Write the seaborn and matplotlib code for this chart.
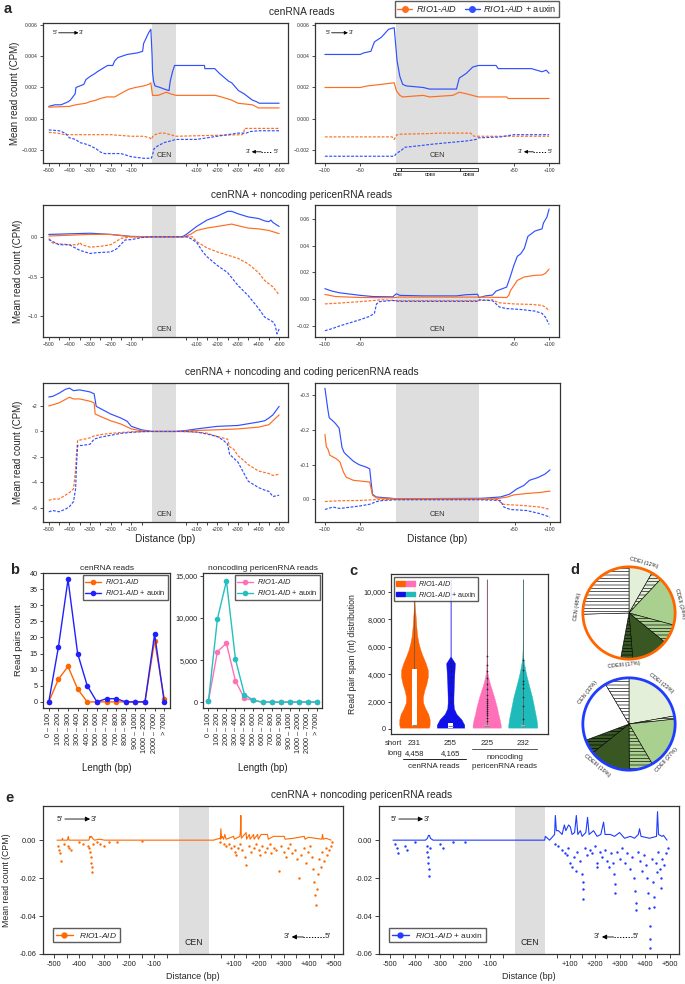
"""Multi-panel cenRNA read profiles for RIO1-AID +/- auxin (panels a-e)."""

import math

import matplotlib

matplotlib.use("Agg")
import matplotlib.pyplot as plt
import matplotlib.transforms as mtrans
from matplotlib.legend_handler import HandlerTuple
from matplotlib.lines import Line2D
from matplotlib.patches import Circle, Patch, Rectangle
import seaborn as sns

FIG_W, FIG_H = 685, 984
CEN_LEN = 117  # CEN block width on the x axis; downstream flank positions = bp + CEN_LEN

ORANGE = "#ff6d1f"
BLUE = "#3050ff"
PINK = "#ff70b8"
TEAL = "#22c0c0"
CEN_GREY = "#dedede"

AID = r"$\mathit{RIO1}$-$\mathit{AID}$"
AUX = r"$\mathit{RIO1}$-$\mathit{AID}$ + auxin"

# ---------------- panel a: read profiles (x: -bp | CEN 0..117 | 117+bp) ----------------
# row 1, left (cenRNA reads, +/-500 bp)
R1L_BF_X = [-500, -470, -440, -405, -395, -372, -368, -330, -320, -300, -275, -265, -240, -215, -190,
            -180, -165, -120, -70, -45, -40, -15, -5, 1, 3, 8, 15, 40, 60, 83, 89, 100, 110, 117,
            142, 255, 257, 305, 327, 354, 372, 387, 407, 420, 447, 487, 507, 520, 617]
R1L_BF_Y = [.0008, .0009, .0009, .0011, .0012, .0016, .0020, .0022, .0025, .0027, .0029, .0030, .0032,
            .0034, .0034, .0037, .0039, .0041, .0042, .0043, .0048, .0055, .0057, .0040, .0030, .0024,
            .0021, .0020, .0019, .0018, .0024, .0030, .0034, .0034, .0034, .0034, .0032, .0032, .0029,
            .0026, .0024, .0023, .0020, .0018, .0016, .0012, .0011, .0010, .0010]
R1L_OF_X = [-500, -400, -370, -320, -300, -270, -250, -220, -180, -140, -110, -80, -40, -15, -5,
            3, 30, 50, 70, 90, 117, 307, 337, 387, 417, 487, 517, 617]
R1L_OF_Y = [.00075, .0008, .0009, .0010, .0011, .0012, .0013, .0014, .0014, .0017, .0019, .0020, .0021,
            .0022, .0023, .0015, .0015, .0016, .0017, .0016, .0015, .0015, .0014, .0012, .0010, .0009,
            .0007, .0007]
R1L_OR_X = [-500, -460, -420, -400, -300, -200, -100, -40, -10, -3, 5, 15, 40, 60, 90, 117,
            437, 446, 448, 617]
R1L_OR_Y = [-.00085, -.0009, -.0010, -.0010, -.0010, -.0010, -.0011, -.0011, -.0012, -.0013, -.0011,
            -.0010, -.0009, -.0009, -.0010, -.0011, -.0010, -.0009, -.0006, -.0006]
R1L_BR_X = [-500, -450, -420, -400, -370, -350, -320, -300, -270, -250, -230, -200, -150, -100, -40,
            -3, 3, 10, 30, 60, 90, 117, 217, 267, 317, 367, 417, 457, 477, 517, 617]
R1L_BR_Y = [-.0007, -.00075, -.0009, -.0012, -.0013, -.0015, -.0016, -.0017, -.0019, -.0021, -.0022,
            -.0022, -.0022, -.0024, -.0025, -.0025, -.0023, -.0019, -.0017, -.0015, -.0014, -.0013,
            -.0013, -.0012, -.0011, -.0010, -.0009, -.0009, -.0008, -.00075, -.00075]

# row 1, right (cenRNA reads, +/-100 bp)
R1R_BF_X = [-100, -50, -45, -35, -30, -20, -10, -2, 2, 6, 10, 15, 39, 48, 86, 90, 100, 109, 117,
            142, 145, 192, 207, 213, 217]
R1R_BF_Y = [.0041, .0041, .0042, .0043, .0049, .0052, .0057, .0058, .0037, .0027, .0022, .0021, .0020,
            .0019, .0019, .0026, .0029, .0033, .0034, .0034, .0032, .0032, .0030, .0031, .0029]
R1R_OF_X = [-100, -50, -40, -20, -2, 1, 6, 10, 39, 48, 81, 90, 100, 117, 157, 159, 217]
R1R_OF_Y = [.0020, .0020, .0021, .0022, .0023, .0018, .0015, .0014, .0015, .0014, .0015, .0017, .0016,
            .0014, .0014, .0013, .0013]
R1R_OR_X = [-100, -5, -2, 2, 6, 48, 62, 106, 111, 117, 217]
R1R_OR_Y = [-.00114, -.00114, -.0013, -.0010, -.00097, -.00093, -.0009, -.0009, -.0011, -.0011, -.0011]
R1R_BR_X = [-100, -2, 1, 8, 13, 34, 53, 76, 100, 114, 117, 147, 167, 217]
R1R_BR_Y = [-.00237, -.00237, -.0022, -.0020, -.0018, -.0017, -.0016, -.0015, -.0014, -.0013, -.0012,
            -.00115, -.0010, -.0010]

# row 2 (cenRNA + noncoding pericenRNA reads)
R2L_BF_X = [-500, -300, -200, -100, 0, 117, 147, 167, 217, 267, 317, 367, 387, 417, 467, 517, 547,
            567, 577, 587, 617]
R2L_BF_Y = [.03, .045, .03, .005, 0, 0, 0, .03, .13, .21, .26, .32, .32, .29, .25, .23, .20, .19, .21,
            .18, .13]
R2L_OF_X = [-500, -300, -200, -100, 0, 117, 157, 187, 217, 267, 317, 387, 417, 467, 517, 567, 617]
R2L_OF_Y = [.01, .03, .03, 0, 0, 0, 0, .03, .08, .11, .13, .16, .14, .11, .10, .08, .04]
R2L_OR_X = [-500, -480, -400, -360, -350, -340, -300, -250, -200, -180, -150, -100, 0, 117, 197, 217,
            267, 317, 367, 417, 467, 517, 547, 587, 617]
R2L_OR_Y = [-.02, -.08, -.10, -.10, -.07, -.10, -.13, -.12, -.10, -.07, -.02, 0, 0, 0, 0, -.06, -.14,
            -.19, -.23, -.27, -.34, -.45, -.55, -.63, -.73]
R2L_BR_X = [-500, -450, -400, -350, -300, -270, -200, -170, -130, -100, -50, 0, 117, 167, 187, 217,
            247, 267, 317, 367, 417, 467, 517, 547, 587, 597, 607, 617]
R2L_BR_Y = [-.035, -.10, -.10, -.17, -.21, -.20, -.19, -.15, -.04, -.035, -.01, 0, 0, 0, -.02, -.07,
            -.19, -.25, -.36, -.45, -.61, -.74, -.90, -1.01, -1.07, -1.11, -1.22, -1.16]

R2R_BF_X = [-100, -90, -79, -50, -32, -4, 1, 6, 39, 86, 100, 116, 118, 127, 137, 142, 157, 162, 167,
            172, 177, 182, 187, 197, 207, 209, 214, 217]
R2R_BF_Y = [.0078, .006, .0047, .0028, .0019, .0017, .004, .0028, .0024, .0024, .0033, .0036, .001,
            .0024, .0030, .006, .009, .0166, .025, .032, .034, .038, .047, .051, .0526, .057, .0615, .0675]
R2R_OF_X = [-100, -85, -50, -4, 5, 115, 157, 160, 162, 172, 182, 197, 207, 212, 217]
R2R_OF_Y = [.0035, .0019, .0012, .001, .0015, .0015, .0012, .0028, .006, .014, .0166, .0178, .018,
            .0194, .0225]
R2R_OR_X = [-100, -80, -50, -20, 5, 115, 137, 142, 147, 167, 192, 207, 212, 217]
R2R_OR_Y = [-.0036, -.003, -.0019, -.0005, -.0012, -.0012, -.0005, -.0019, -.0028, -.0036, -.004,
            -.0047, -.006, -.009]
R2R_BR_X = [-100, -89, -79, -65, -50, -37, -30, -27, -23, -4, 5, 115, 117, 137, 142, 147, 157, 177,
            197, 207, 212, 217]
R2R_BR_Y = [-.0237, -.022, -.0201, -.0178, -.0154, -.013, -.0107, -.0036, -.0019, -.001, -.0017,
            -.0017, -.0005, -.0012, -.0036, -.006, -.0071, -.0078, -.009, -.0107, -.0137, -.019]

# row 3 (cenRNA + noncoding and coding pericenRNA reads)
R3L_BF_X = [-500, -480, -450, -420, -400, -380, -350, -300, -280, -270, -250, -200, -150, -120, -100,
            -50, 0, 117, 167, 217, 317, 417, 517, 547, 567, 587, 617]
R3L_BF_Y = [2.7, 2.76, 3.0, 3.3, 3.4, 3.2, 3.26, 3.1, 2.95, 1.97, 1.8, 1.37, 1.05, 0.8, 0.4, 0.13, 0,
            0, .08, .2, .4, .47, .74, .84, 1.05, 1.3, 1.97]
R3L_OF_X = [-500, -450, -400, -380, -350, -300, -280, -275, -250, -200, -150, -100, -50, 0, 117, 217,
            317, 417, 517, 567, 617]
R3L_OF_Y = [2.0, 2.24, 2.68, 2.55, 2.55, 2.37, 2.24, 1.37, 1.18, .84, .58, .2, .05, 0, 0, .08, .13,
            .2, .34, .53, 1.3]
R3L_OR_X = [-500, -480, -450, -420, -400, -380, -370, -365, -360, -340, -300, -280, -250, -200, -150,
            -100, -50, 0, 117, 217, 267, 317, 367, 377, 397, 417, 447, 467, 497, 517, 567, 587, 617]
R3L_OR_Y = [-5.4, -5.3, -5.3, -5.0, -4.8, -4.5, -3.0, -1.5, -0.7, -0.65, -0.5, -0.35, -0.25, -0.15,
            -0.08, -0.03, -0.01, 0, 0, -0.05, -0.13, -0.4, -0.6, -1.2, -1.4, -1.9, -2.3, -2.6, -2.9,
            -3.1, -3.3, -3.45, -3.35]
R3L_BR_X = [-500, -480, -450, -420, -400, -380, -370, -365, -360, -340, -300, -290, -280, -250, -200,
            -150, -100, -50, 0, 117, 167, 217, 267, 317, 347, 367, 377, 397, 417, 437, 467, 517, 547,
            567, 587, 617]
R3L_BR_Y = [-6.3, -6.2, -6.3, -6.1, -5.9, -5.5, -4.5, -2.5, -1.1, -1.1, -1.0, -0.8, -0.6, -0.45, -0.3,
            -0.15, -0.07, -0.02, 0, 0, 0, -0.05, -0.2, -0.4, -0.7, -1.0, -1.8, -2.1, -2.4, -3.0, -3.9,
            -4.4, -4.6, -4.7, -5.1, -5.0]

R3R_BF_X = [-100, -98, -96, -94, -90, -85, -80, -76, -73, -68, -60, -52, -42, -37, -35, -33, -28,
            -10, 0, 117, 127, 147, 160, 170, 180, 188, 200, 210, 217]
R3R_BF_Y = [.32, .29, .26, .235, .228, .218, .205, .15, .135, .125, .11, .10, .093, .088, .05, .015,
            .007, .004, .002, .003, .004, .007, .015, .03, .04, .055, .063, .073, .085]
R3R_OF_X = [-100, -98, -96, -93, -84, -79, -74, -70, -60, -37, -33, -27, 0, 117, 142, 157, 166, 184,
            203, 217]
R3R_OF_Y = [.187, .151, .146, .127, .117, .108, .079, .064, .055, .05, .012, .004, .002, .002, .002,
            .007, .013, .017, .02, .024]
R3R_OR_X = [-100, -80, -50, -32, 0, 117, 142, 147, 152, 175, 203, 217]
R3R_OR_Y = [-.006, -.004, -.003, -.001, 0, 0, 0, -.008, -.0145, -.017, -.022, -.029]
R3R_BR_X = [-100, -89, -79, -51, -37, -27, -18, 0, 117, 147, 152, 161, 184, 203, 217]
R3R_BR_Y = [-.029, -.022, -.026, -.019, -.014, -.006, -.003, -.001, -.001, -.003, -.022, -.029, -.032,
            -.041, -.051]

CDE_EDGES = [0, 8, 91, 117]
CDE_NAMES = ["CDEI", "CDEII", "CDEIII"]

# ---------------- panel b: read-pair length distribution ----------------
LENGTH_BINS = ["0 – 100", "100 – 200", "200 – 300", "300 – 400", "400 – 500", "500 – 600",
               "600 – 700", "700 – 800", "800 – 900", "900 – 1000", "1000 – 2000", "2000 – 7000",
               "> 7000"]
B_CEN_AID = [0, 7, 11, 4, 0, 0, 0, 0, 0, 0, 0, 19, 1]
B_CEN_AUX = [0, 17, 38, 15, 5, 0, 1, 1, 0, 0, 0, 21, 0]
B_PERI_AID = [100, 6000, 7000, 2500, 450, 200, 0, 0, 0, 0, 0, 0, 0]
B_PERI_AUX = [100, 9900, 14400, 5100, 900, 200, 0, 0, 0, 0, 0, 0, 0]

# ---------------- panel c: read-pair span violins ----------------
VIOLIN_COLORS = ["#ff6000", "#1010e8", PINK, "#1fbaba"]
VIOLIN_Y = [100, 300, 700, 1100, 1500, 1900, 2300, 2800, 3300, 3800, 4300, 4800, 5300, 5800, 6300,
            6800, 7500, 8300, 9300, 10000, 10900]
VIOLIN_HW_AID = [0.40, 0.42, 0.42, 0.38, 0.30, 0.24, 0.23, 0.27, 0.33, 0.37, 0.37, 0.31, 0.23, 0.16,
                 0.11, 0.075, 0.05, 0.03, 0.0, 0.0, 0.0]
VIOLIN_HW_AUX = [0.38, 0.38, 0.30, 0.16, 0.09, 0.08, 0.08, 0.085, 0.09, 0.10, 0.11, 0.12, 0.0, 0, 0,
                 0, 0, 0, 0, 0, 0]
VIOLIN_HW_PERI_AID = [0.39, 0.39, 0.36, 0.32, 0.29, 0.25, 0.21, 0.15, 0.09, 0.04, 0.012, 0.006,
                      0.003, 0, 0, 0, 0, 0, 0, 0, 0]
VIOLIN_HW_PERI_AUX = [0.40, 0.40, 0.38, 0.35, 0.32, 0.29, 0.26, 0.21, 0.16, 0.11, 0.07, 0.035, 0.012,
                      0.004, 0, 0, 0, 0, 0, 0, 0]
BOX_Q1 = [220, 100, 150, 150]
BOX_Q3 = [4350, 450, 320, 320]
BOX_MED = [260, 200, 230, 230]
WHISK_TOP = [9300, 450, 10900, 10900]
BOX_FACE = ["white", "white", "#b5b5b5", "#b5b5b5"]
C_DOT_GROUP = [1] * 7 + [2] * 18 + [3] * 8
C_DOT_Y = [2000, 2500, 3400, 3800, 4200, 4600, 4900,
           600, 800, 1000, 1150, 1300, 1450, 1600, 1750, 1900, 2050, 2200, 2500, 2900, 3300, 3700,
           4200, 4700, 5300,
           700, 1700, 2300, 3000, 3300, 3500, 4300, 5000]
SHORT_N = ["231", "255", "225", "232"]
LONG_N = ["4,458", "4,165"]

# ---------------- panel d: CDE composition pies (solid / hatched parts, %) ----------------
PIE_TOP = [8.3, 3.7, 17.2, 6.7, 12.8, 4.2, 21.7, 25.4]
PIE_BOTTOM = [22.2, 1.1, 18.3, 8.3, 14.4, 5.0, 22.2, 8.5]
PIE_COLORS = ["#e3efd9", "#e3efd9", "#a9d08e", "#a9d08e", "#385723", "#385723", "white", "white"]
PIE_HATCH = ["", "-----", "", "-----", "", "-----", "", "-----"]
PIE_TOP_LABELS = [("CDEI (12%)", 74, -16), ("CDEII (24%)", 10, -76), ("CDEIII (17%)", -96, 6),
                  ("CEN (48%)", 173, 82)]
PIE_BOTTOM_LABELS = [("CDEI (23%)", 52, -38), ("CDEII (27%)", -44, 48), ("CDEIII (19%)", -128, -40),
                     ("CEN (32%)", 142, 52)]

# ---------------- panel e: per-position profiles (forward line, reverse dots) ----------------
E_AID_FWD_X = [-490, -470, -468, -466, -448, -445, -442, -380, -362, -358, -355, -352, -348, -340,
               -320, -300, -200, -100, 0, 117, 137, 162, 164, 166, 169, 172, 177, 182, 187, 217, 220,
               242, 244, 246, 248, 267, 269, 280, 283, 297, 299, 313, 316, 327, 353, 356, 377, 420,
               423, 457, 500, 503, 517, 570, 573, 576, 587, 607]
E_AID_FWD_Y = [0, 0, .001, 0, 0, .002, 0, 0, 0, .002, .0015, .002, .001, 0, .0005, 0, 0, 0, 0, 0, 0,
               .001, .0005, .006, .001, .002, .0005, .003, .0005, .002, .0005, .002, .004, .013, .001,
               .004, .0005, .003, .0005, .003, .0005, .003, .0005, .003, .003, .0005, .002, .002,
               .0005, .001, .002, .0005, .0015, .0005, .003, .0005, .001, 0]
E_AID_REV = [(-485, -.003), (-480, -.005), (-476, -.007), (-472, -.011), (-462, -.002), (-445, -.003),
             (-440, -.004), (-435, -.005), (-400, -.001), (-385, -.002), (-365, -.003), (-360, -.004),
             (-357, -.006), (-355, -.009), (-353, -.012), (-351, -.014), (-350, -.017), (-345, -.002),
             (-330, -.001), (-318, -.002), (-300, -.003), (-280, -.001), (-250, -.001), (-150, -.0005),
             (162, -.001), (177, -.002), (187, -.003), (197, -.002), (207, -.004), (217, -.003),
             (222, -.006), (227, -.008), (235, -.004), (242, -.002), (252, -.005), (262, -.009),
             (267, -.013), (277, -.003), (287, -.006), (297, -.004), (307, -.002), (317, -.005),
             (322, -.008), (332, -.003), (342, -.006), (352, -.004), (362, -.002), (367, -.007),
             (377, -.004), (387, -.005), (397, -.016), (407, -.003), (417, -.006), (427, -.009),
             (435, -.004), (442, -.002), (452, -.007), (462, -.005), (472, -.010), (479, -.020),
             (487, -.008), (497, -.004), (507, -.012), (515, -.006), (522, -.003), (529, -.009),
             (535, -.015), (539, -.022), (542, -.029), (545, -.034), (549, -.026), (553, -.018),
             (559, -.010), (565, -.014), (572, -.006), (579, -.011), (585, -.004), (592, -.008),
             (599, -.005), (607, -.003), (612, -.001)]
E_AUX_FWD = [(-490, 0), (-360, 0), (-352, .001), (-348, .0025), (-344, .0025), (-340, .001), (-330, 0),
             (-200, 0), (0, 0), (117, 0), (120, .002), (137, 0), (157, .003), (160, .013), (164, .005),
             (172, .005), (180, .004), (187, .003), (196, .008), (202, .005), (213, .008), (220, .007),
             (227, .003), (237, .004), (244, .013), (250, .003), (260, .005), (267, .002), (282, .004),
             (289, .012), (295, .003), (313, .005), (327, .002), (342, .003), (353, .0095), (359, .003),
             (380, .003), (397, .002), (417, .004), (437, .001), (460, .002), (477, .001), (492, .003),
             (497, .006), (503, .002), (537, .001), (565, .002), (569, .015), (573, .003), (587, .002),
             (593, .0025), (607, 0)]
E_AUX_REV = [(-480, -.002), (-474, -.004), (-470, -.007), (-440, -.003), (-435, -.005), (-400, -.001),
             (-355, -.003), (-352, -.006), (-350, -.009), (-348, -.012), (-346, -.015), (-344, -.019),
             (-340, -.004), (-300, -.002), (-290, -.004), (-250, -.001), (-200, -.001),
             (157, -.002), (172, -.003), (187, -.005), (197, -.007), (207, -.008), (212, -.004),
             (217, -.012), (227, -.014), (235, -.009), (242, -.016), (247, -.006), (257, -.011),
             (265, -.018), (269, -.022), (269, -.026), (269, -.031), (277, -.004), (287, -.008),
             (297, -.005), (307, -.007), (317, -.003), (325, -.012), (327, -.014), (337, -.006),
             (347, -.009), (357, -.005), (367, -.011), (375, -.014), (382, -.007), (389, -.012),
             (395, -.018), (397, -.023), (397, -.028), (407, -.006), (417, -.010), (427, -.004),
             (437, -.012), (447, -.007), (457, -.015), (467, -.009), (475, -.020), (479, -.027),
             (481, -.033), (482, -.037), (489, -.006), (497, -.011), (507, -.016), (515, -.008),
             (522, -.013), (527, -.020), (532, -.028), (535, -.036), (537, -.045), (538, -.052),
             (538, -.057), (547, -.010), (551, -.022), (554, -.030), (555, -.035), (562, -.012),
             (567, -.017), (572, -.006), (577, -.015), (581, -.020), (582, -.025), (587, -.010),
             (595, -.013), (602, -.007), (609, -.004)]

FLANK_TICKS = [-500, -400, -300, -200, -100, 217, 317, 417, 517, 617]
FLANK_TICK_LABELS = ["−500", "−400", "−300", "−200", "−100", "+100", "+200", "+300", "+400", "+500"]
FLANK_MINOR = [-450, -350, -250, -150, -50, 167, 267, 367, 467, 567]
ZOOM_TICKS = [-100, -50, 167, 217]
ZOOM_TICK_LABELS = ["−100", "−50", "+50", "+100"]


def box(x0, y0, x1, y1):
    """Pixel box (top-left origin) -> figure-fraction rect."""
    return [x0 / FIG_W, 1 - y1 / FIG_H, (x1 - x0) / FIG_W, (y1 - y0) / FIG_H]


def _style() -> None:
    sns.set_theme(style="ticks")
    plt.rcParams.update(
        {
            "font.family": ["Liberation Sans", "DejaVu Sans"],
            "mathtext.fontset": "custom",
            "mathtext.it": "Liberation Sans:italic",
            "mathtext.rm": "Liberation Sans",
            "axes.edgecolor": "#333333",
            "axes.linewidth": 0.9,
            "xtick.major.size": 2.2,
            "ytick.major.size": 2.2,
            "xtick.minor.size": 2.2,
            "xtick.major.width": 0.6,
            "ytick.major.width": 0.6,
            "xtick.minor.width": 0.6,
            "xtick.major.pad": 1.5,
            "ytick.major.pad": 1.5,
            "hatch.linewidth": 0.45,
        }
    )


def strand_arrows(ax, fwd, rev, fs, head=5):
    """5' -> 3' (solid) and 3' <- 5' (dotted) strand keys, in axes fraction."""
    x0, x1, y = fwd
    ax.text(x0, y, "5'", transform=ax.transAxes, ha="right", va="center", fontsize=fs)
    ax.annotate("", xy=(x1, y), xytext=(x0 + 0.006, y), xycoords="axes fraction",
                arrowprops=dict(arrowstyle="-|>", color="black", lw=0.6, mutation_scale=head,
                                shrinkA=0, shrinkB=0))
    ax.text(x1 + 0.003, y, "3'", transform=ax.transAxes, ha="left", va="center", fontsize=fs)
    x0, x1, y = rev
    ax.text(x0, y, "3'", transform=ax.transAxes, ha="right", va="center", fontsize=fs)
    ax.annotate("", xy=(x0 + 0.006, y), xytext=(x0 + 0.045, y), xycoords="axes fraction",
                arrowprops=dict(arrowstyle="-|>", color="black", lw=0.6, mutation_scale=head,
                                shrinkA=0, shrinkB=0))
    ax.plot([x0 + 0.045, x1 - 0.004], [y, y], transform=ax.transAxes, color="black", lw=0.7,
            ls=(0, (1.3, 1.6)))
    ax.text(x1, y, "5'", transform=ax.transAxes, ha="left", va="center", fontsize=fs)


def profile_panel(ax, series, xlim, ylim, yticks, ylabels, zoom, cen_fs=5.3):
    ax.axvspan(0, CEN_LEN, color=CEN_GREY, lw=0, zorder=0)
    for x, y, color, rev in series:
        sns.lineplot(x=x, y=y, ax=ax, color=color, lw=0.85, estimator=None, sort=False,
                     linestyle=(0, (2.4, 1.3)) if rev else "-")
    ax.set_xlim(xlim)
    ax.set_ylim(ylim)
    ax.set_yticks(yticks, ylabels)
    if zoom:
        ax.set_xticks(ZOOM_TICKS, ZOOM_TICK_LABELS)
    else:
        ax.set_xticks(FLANK_TICKS, FLANK_TICK_LABELS)
        ax.set_xticks(FLANK_MINOR, minor=True)
    ax.tick_params(labelsize=3.7, colors="#333333")
    trans = mtrans.blended_transform_factory(ax.transData, ax.transAxes)
    ax.text(CEN_LEN / 2, 0.055, "CEN", transform=trans, ha="center", va="center", fontsize=cen_fs,
            color="#333333")
    for side in ("top", "right"):
        ax.spines[side].set_visible(True)


def length_panel(ax, vals_a, vals_b, col_a, col_b, ylim, yticks, ylabels, title):
    pos = list(range(len(LENGTH_BINS)))
    sns.lineplot(x=pos, y=vals_a, ax=ax, color=col_a, lw=1.0, marker="o", markersize=4,
                 markeredgewidth=0, estimator=None, label=AID)
    sns.lineplot(x=pos, y=vals_b, ax=ax, color=col_b, lw=1.0, marker="o", markersize=4,
                 markeredgewidth=0, estimator=None, label=AUX)
    ax.set_xlim(-0.6, len(LENGTH_BINS) - 0.4)
    ax.set_ylim(ylim)
    ax.set_yticks(yticks, ylabels)
    ax.set_xticks(pos, LENGTH_BINS, rotation=90)
    ax.tick_params(labelsize=5.2, colors="#222222")
    ax.set_title(title, fontsize=6, pad=2.5)
    ax.set_xlabel("Length (bp)", fontsize=7)
    ax.xaxis.set_label_coords(0.5, -0.41)
    ax.legend(loc="upper right", fontsize=5.4, frameon=True, fancybox=False, edgecolor="#333333",
              handlelength=2.2, borderpad=0.3, labelspacing=0.25, handletextpad=0.5,
              borderaxespad=0.3)
    for side in ("top", "right"):
        ax.spines[side].set_visible(True)


def pie_panel(ax, sizes, ring, labels):
    ax.pie(sizes, colors=PIE_COLORS, hatch=PIE_HATCH, startangle=90, counterclock=False,
           wedgeprops=dict(edgecolor="black", linewidth=0.4))
    ax.add_patch(Circle((0, 0), 1.0, fill=False, edgecolor=ring, lw=2.0, zorder=5))
    for text, ang, rot in labels:
        r = 1.13
        ax.text(r * math.cos(math.radians(ang)), r * math.sin(math.radians(ang)), text,
                ha="center", va="center", rotation=rot, fontsize=4.0, rotation_mode="anchor")
    ax.set_xlim(-1.3, 1.3)
    ax.set_ylim(-1.3, 1.3)
    ax.set_aspect("equal")
    ax.axis("off")


def position_panel(ax, fwd_x, fwd_y, rev, color, label, ylab):
    ax.axvspan(0, CEN_LEN, color=CEN_GREY, lw=0, zorder=0)
    sns.lineplot(x=fwd_x, y=fwd_y, ax=ax, color=color, lw=0.8, estimator=None, sort=False)
    sns.scatterplot(x=[p[0] for p in rev], y=[p[1] for p in rev], ax=ax, color=color, s=3,
                    linewidth=0)
    ax.set_xlim(-546, 655)
    ax.set_ylim(-0.06, 0.018)
    ax.set_yticks([0, -0.02, -0.04, -0.06], ["0.00", "-0.02", "-0.04", "-0.06"])
    ax.set_xticks(FLANK_TICKS, [t.replace("−", "-") for t in FLANK_TICK_LABELS])
    ax.set_xticks(FLANK_MINOR, minor=True)
    ax.tick_params(labelsize=5.3, colors="#222222")
    ax.tick_params(which="both", length=3.2)
    trans = mtrans.blended_transform_factory(ax.transData, ax.transAxes)
    ax.text(CEN_LEN / 2, 0.075, "CEN", transform=trans, ha="center", va="center", fontsize=6.3)
    ax.set_xlabel("Distance (bp)", fontsize=6.5)
    ax.xaxis.set_label_coords(0.5, -0.12)
    if ylab:
        ax.set_ylabel("Mean read count (CPM)", fontsize=6.3)
        ax.yaxis.set_label_coords(-0.105, 0.5)
    handle = Line2D([], [], color=color, lw=1.0, marker="o", markersize=3.5)
    ax.legend([handle], [label], loc="lower left", bbox_to_anchor=(0.02, 0.05), fontsize=6,
              frameon=True, fancybox=False, edgecolor="#333333", handlelength=2.0,
              borderpad=0.35)
    for side in ("top", "right"):
        ax.spines[side].set_visible(True)


def main() -> None:
    _style()
    fig = plt.figure(figsize=(FIG_W / 100, FIG_H / 100), dpi=100)

    # ---- panel a ----
    rows = [
        dict(
            boxes=(box(43, 23, 288, 163), box(315, 23, 559, 163)),
            left=[(R1L_BF_X, R1L_BF_Y, BLUE, False), (R1L_OF_X, R1L_OF_Y, ORANGE, False),
                  (R1L_OR_X, R1L_OR_Y, ORANGE, True), (R1L_BR_X, R1L_BR_Y, BLUE, True)],
            right=[(R1R_BF_X, R1R_BF_Y, BLUE, False), (R1R_OF_X, R1R_OF_Y, ORANGE, False),
                   (R1R_OR_X, R1R_OR_Y, ORANGE, True), (R1R_BR_X, R1R_BR_Y, BLUE, True)],
            lylim=(-0.0028, 0.0061), rylim=(-0.0028, 0.0061),
            lyt=([0.006, 0.004, 0.002, 0, -0.002], ["0.006", "0.004", "0.002", "0.000", "−0.002"]),
            ryt=([0.006, 0.004, 0.002, 0, -0.002], ["0.006", "0.004", "0.002", "0.000", "−0.002"]),
            title="cenRNA reads", ty=12, ylab_x=-0.094,
        ),
        dict(
            boxes=(box(43, 205, 288, 337), box(315, 205, 559, 337)),
            left=[(R2L_BF_X, R2L_BF_Y, BLUE, False), (R2L_OF_X, R2L_OF_Y, ORANGE, False),
                  (R2L_OR_X, R2L_OR_Y, ORANGE, True), (R2L_BR_X, R2L_BR_Y, BLUE, True)],
            right=[(R2R_BF_X, R2R_BF_Y, BLUE, False), (R2R_OF_X, R2R_OF_Y, ORANGE, False),
                   (R2R_OR_X, R2R_OR_Y, ORANGE, True), (R2R_BR_X, R2R_BR_Y, BLUE, True)],
            lylim=(-1.26, 0.40), rylim=(-0.0284, 0.0705),
            lyt=([0, -0.5, -1.0], ["0.0", "−0.5", "−1.0"]),
            ryt=([0.06, 0.04, 0.02, 0, -0.02], ["0.06", "0.04", "0.02", "0.00", "−0.02"]),
            title="cenRNA + noncoding pericenRNA reads", ty=195, ylab_x=-0.082,
        ),
        dict(
            boxes=(box(43, 383, 288, 522), box(315, 383, 560, 522)),
            left=[(R3L_BF_X, R3L_BF_Y, BLUE, False), (R3L_OF_X, R3L_OF_Y, ORANGE, False),
                  (R3L_OR_X, R3L_OR_Y, ORANGE, True), (R3L_BR_X, R3L_BR_Y, BLUE, True)],
            right=[(R3R_BF_X, R3R_BF_Y, BLUE, False), (R3R_OF_X, R3R_OF_Y, ORANGE, False),
                   (R3R_OR_X, R3R_OR_Y, ORANGE, True), (R3R_BR_X, R3R_BR_Y, BLUE, True)],
            lylim=(-7.1, 3.8), rylim=(-0.065, 0.335),
            lyt=([2, 0, -2, -4, -6], ["+2", "0", "−2", "−4", "−6"]),
            ryt=([0.3, 0.2, 0.1, 0], ["+0.3", "+0.2", "+0.1", "0.0"]),
            title="cenRNA + noncoding and coding pericenRNA reads", ty=372, ylab_x=-0.082,
        ),
    ]
    for i, row in enumerate(rows):
        axl = fig.add_axes(row["boxes"][0])
        axr = fig.add_axes(row["boxes"][1])
        profile_panel(axl, row["left"], (-528, 660), row["lylim"], *row["lyt"], zoom=False)
        profile_panel(axr, row["right"], (-114, 231), row["rylim"], *row["ryt"], zoom=True)
        axl.set_ylabel("Mean read count (CPM)", fontsize=7)
        axl.yaxis.set_label_coords(row["ylab_x"], 0.5)
        fig.text(302 / FIG_W, 1 - row["ty"] / FIG_H, row["title"], ha="center", va="center",
                 fontsize=7.3)
        if i == 0:
            strand_arrows(axl, (0.058, 0.145, 0.93), (0.846, 0.94, 0.08), fs=4.6)
            strand_arrows(axr, (0.062, 0.135, 0.93), (0.85, 0.952, 0.08), fs=4.6)
            trans = mtrans.blended_transform_factory(axr.transData, axr.transAxes)
            for lo, hi, name in zip(CDE_EDGES[:-1], CDE_EDGES[1:], CDE_NAMES):
                axr.add_patch(Rectangle((lo, -0.036), hi - lo, -0.022, transform=trans,
                                        facecolor="#f4f4f4", edgecolor="black", lw=0.5,
                                        clip_on=False))
                axr.text((lo + hi) / 2 if name != "CDEI" else lo + 3, -0.072, name,
                         transform=trans, ha="center", va="top", fontsize=3.0,
                         fontweight="bold")
        if i == 2:
            for ax in (axl, axr):
                ax.set_xlabel("Distance (bp)", fontsize=7.3)
                ax.xaxis.set_label_coords(0.5, -0.085)

    legend_handles = [Line2D([], [], color=ORANGE, lw=1.0, marker="o", markersize=4),
                      Line2D([], [], color=BLUE, lw=1.0, marker="o", markersize=4)]
    fig.legend(legend_handles, [AID, AUX], loc="center", bbox_to_anchor=(477 / FIG_W, 1 - 9 / FIG_H),
               ncol=2, fontsize=6.6, frameon=True, fancybox=False, edgecolor="#333333",
               handlelength=1.6, columnspacing=0.9, borderpad=0.25, handletextpad=0.4)

    # ---- panel b ----
    axb1 = fig.add_axes(box(43, 573, 170, 708))
    length_panel(axb1, B_CEN_AID, B_CEN_AUX, "#ff6600", "#2020ff", (-1.9, 40),
                 list(range(0, 41, 5)), [str(v) for v in range(0, 41, 5)], "cenRNA reads")
    axb1.set_ylabel("Read pairs count", fontsize=6.8)
    axb1.yaxis.set_label_coords(-0.16, 0.5)
    axb2 = fig.add_axes(box(203, 573, 322, 708))
    length_panel(axb2, B_PERI_AID, B_PERI_AUX, PINK, TEAL, (-700, 15350),
                 [0, 5000, 10000, 15000], ["0", "5,000", "10,000", "15,000"],
                 "noncoding pericenRNA reads")

    # ---- panel c ----
    axc = fig.add_axes(box(391, 574, 548, 734))
    hw_lists = [VIOLIN_HW_AID, VIOLIN_HW_AUX, VIOLIN_HW_PERI_AID, VIOLIN_HW_PERI_AUX]
    for pos, (hw, col) in enumerate(zip(hw_lists, VIOLIN_COLORS)):
        axc.fill_betweenx(VIOLIN_Y, [pos - w for w in hw], [pos + w for w in hw], color=col,
                          lw=0.3, edgecolor=col, zorder=2)
    axc.vlines(range(4), BOX_Q3, WHISK_TOP, color="#555555", lw=0.5, zorder=3)
    axc.bar(range(4), [q3 - q1 for q1, q3 in zip(BOX_Q1, BOX_Q3)], bottom=BOX_Q1, width=0.12,
            color=BOX_FACE, lw=0, zorder=3)
    axc.hlines(BOX_MED, [p - 0.06 for p in range(4)], [p + 0.06 for p in range(4)],
               color="#888888", lw=0.8, zorder=4)
    sns.scatterplot(x=C_DOT_GROUP, y=C_DOT_Y, ax=axc, color="#222222", s=1.5, linewidth=0,
                    zorder=5)
    axc.set_xlim(-0.65, 3.7)
    axc.set_ylim(-365, 11300)
    axc.set_xticks([])
    axc.set_yticks(range(0, 10001, 2000), ["0", "2,000", "4,000", "6,000", "8,000", "10,000"])
    axc.tick_params(labelsize=5.2, colors="#222222")
    axc.set_ylabel("Read pair span (nt) distribution", fontsize=6.3)
    axc.yaxis.set_label_coords(-0.217, 0.5)
    for side in ("top", "right"):
        axc.spines[side].set_visible(True)
    ctrans = mtrans.blended_transform_factory(axc.transData, axc.transAxes)
    axc.text(-0.35, -0.06, "short", transform=ctrans, ha="right", va="center", fontsize=5.6)
    axc.text(-0.35, -0.12, "long", transform=ctrans, ha="right", va="center", fontsize=5.6)
    for pos, n in enumerate(SHORT_N):
        axc.text(pos, -0.06, n, transform=ctrans, ha="center", va="center", fontsize=5.6)
    for pos, n in enumerate(LONG_N):
        axc.text(pos, -0.12, n, transform=ctrans, ha="center", va="center", fontsize=5.6)
    axc.plot([-0.33, 1.42], [-0.155, -0.155], transform=ctrans, color="#222222", lw=0.7,
             clip_on=False)
    axc.text(0.55, -0.2, "cenRNA reads", transform=ctrans, ha="center", va="center", fontsize=5.8)
    axc.plot([1.6, 3.4], [-0.095, -0.095], transform=ctrans, color="#555555", lw=0.7,
             clip_on=False)
    axc.text(2.5, -0.145, "noncoding", transform=ctrans, ha="center", va="center", fontsize=5.8)
    axc.text(2.5, -0.205, "pericenRNA reads", transform=ctrans, ha="center", va="center",
             fontsize=5.8)
    c_handles = [(Patch(color=VIOLIN_COLORS[0]), Patch(color=VIOLIN_COLORS[2])),
                 (Patch(color=VIOLIN_COLORS[1]), Patch(color=VIOLIN_COLORS[3]))]
    axc.legend(c_handles, [AID, AUX], handler_map={tuple: HandlerTuple(ndivide=None, pad=0.15)},
               loc="upper left", fontsize=5.2, frameon=True, fancybox=False, edgecolor="#333333",
               handlelength=2.6, handleheight=0.6, borderpad=0.3, labelspacing=0.2,
               handletextpad=0.4, borderaxespad=0.4)

    # ---- panel d ----
    pie_panel(fig.add_axes(box(569, 553, 689, 673)), PIE_TOP, "#ff6600", PIE_TOP_LABELS)
    pie_panel(fig.add_axes(box(569, 664, 689, 784)), PIE_BOTTOM, "#1f3cff", PIE_BOTTOM_LABELS)

    # ---- panel e ----
    axe1 = fig.add_axes(box(43, 806, 343, 954))
    position_panel(axe1, E_AID_FWD_X, E_AID_FWD_Y, E_AID_REV, "#ff6a00", AID, True)
    strand_arrows(axe1, (0.067, 0.157, 0.912), (0.823, 0.94, 0.115), fs=5.8, head=7)
    axe2 = fig.add_axes(box(379, 806, 679, 954))
    position_panel(axe2, [p[0] for p in E_AUX_FWD], [p[1] for p in E_AUX_FWD], E_AUX_REV,
                   "#1f3cff", AUX, False)
    strand_arrows(axe2, (0.06, 0.147, 0.912), (0.737, 0.847, 0.115), fs=5.8, head=7)
    fig.text(362 / FIG_W, 1 - 795 / FIG_H, "cenRNA + noncoding pericenRNA reads", ha="center",
             va="center", fontsize=7.3)

    # ---- panel letters ----
    for letter, (px, py) in {"a": (8, 9), "b": (15, 570), "c": (353, 571), "d": (575, 570),
                             "e": (9, 798)}.items():
        fig.text(px / FIG_W, 1 - py / FIG_H, letter, ha="center", va="center", fontsize=10.5,
                 fontweight="bold")

    fig.savefig("out.png", dpi=100)
    plt.close(fig)


if __name__ == "__main__":
    main()
